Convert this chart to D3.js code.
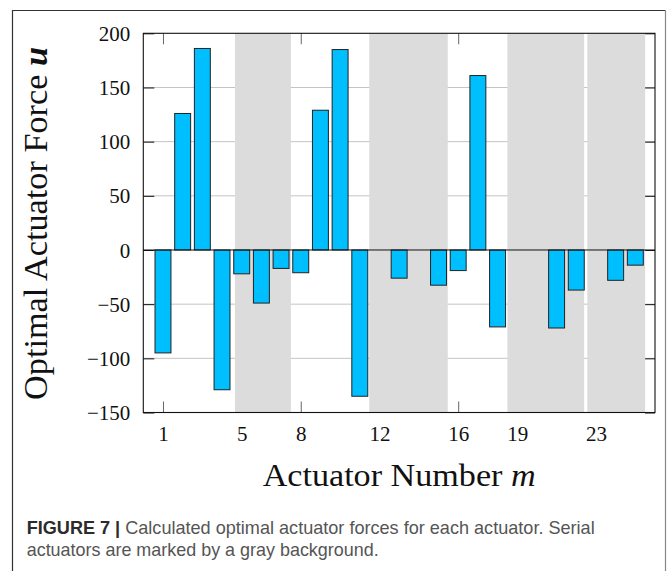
<!DOCTYPE html>
<html>
<head>
<meta charset="utf-8">
<script src="https://cdn.jsdelivr.net/npm/d3@7"></script>
<style>
  html, body { margin: 0; padding: 0; background: #fff; }
  svg { display: block; }
</style>
</head>
<body>
<svg id="fig" width="667" height="571"></svg>
<script>
// Actuator indices and optimal forces u (N)
const actuators = d3.range(1, 26);
const forces = [-95, 126, 186, -129, -22, -49, -17, -21, 129, 185,
                -135, 0, -26, 0, -32.5, -19, 161, -71, 0, 0,
                -72, -37, 0, -28, -14];
// Serial actuator groups, shaded (start/end in actuator units)
const bandStart = [4.66, 11.48, 18.5, 22.56];
const bandEnd   = [7.5, 15.47, 22.4, 25.5];
const xTicks = [1, 5, 8, 12, 16, 19, 23];
const yTicks = [-150, -100, -50, 0, 50, 100, 150, 200];

const svg = d3.select("#fig");
const serif = "'Liberation Serif', 'Times New Roman', serif";
const sans = "'Liberation Sans', Arial, sans-serif";

// outer figure frame
svg.append("path")
  .attr("d", "M12.5,575 V10.5 H665.5")
  .attr("fill", "none").attr("stroke", "#333").attr("stroke-width", 1.2);
svg.append("line")
  .attr("x1", 665.5).attr("x2", 665.5).attr("y1", 10.5).attr("y2", 575)
  .attr("stroke", "#888").attr("stroke-width", 1.2);

const L = 143.3, R = 655, T = 33.3, B = 412.5;
const x = d3.scaleLinear().domain([0, 26]).range([L, R]);
const y = d3.scaleLinear().domain([-150, 200]).range([B, T]);

const g = svg.append("g");

// horizontal grid
g.append("g").selectAll("line")
  .data(yTicks.filter(v => v !== 0 && v !== -150 && v !== 200))
  .join("line")
  .attr("x1", L).attr("x2", R)
  .attr("y1", d => y(d)).attr("y2", d => y(d))
  .attr("stroke", "#c4c4c4").attr("stroke-width", 1);

// axes (inward ticks)
const fmt = d3.format("d");
const axL = g.append("g").attr("transform", `translate(${L},0)`)
  .call(d3.axisLeft(y).tickValues(yTicks).tickFormat(fmt).tickSizeInner(-11).tickSizeOuter(0).tickPadding(13));
const axR = g.append("g").attr("transform", `translate(${R},0)`)
  .call(d3.axisRight(y).tickValues(yTicks).tickFormat("").tickSizeInner(-10).tickSizeOuter(0));
const axB = g.append("g").attr("transform", `translate(0,${B})`)
  .call(d3.axisBottom(x).tickValues(xTicks).tickFormat(fmt).tickSizeInner(-11).tickSizeOuter(0).tickPadding(14));
const axT = g.append("g").attr("transform", `translate(0,${T})`)
  .call(d3.axisTop(x).tickValues(xTicks).tickFormat("").tickSizeInner(-11).tickSizeOuter(0));

[axL, axR, axB, axT].forEach(a => a.select(".domain").remove());
[axL, axR].forEach(a => a.selectAll(".tick line").attr("stroke", "#111").attr("stroke-width", 1));
[axB, axT].forEach(a => a.selectAll(".tick line").attr("stroke", "#666").attr("stroke-width", 1));
[axL, axB].forEach(a => a.selectAll(".tick text")
  .attr("font-family", serif).attr("font-size", 21).attr("fill", "#111"));
axL.selectAll(".tick text").attr("dy", "0.34em");
axB.selectAll(".tick text").attr("dy", "0.71em");

// shaded serial-actuator bands
g.append("g").selectAll("rect")
  .data(d3.zip(bandStart, bandEnd))
  .join("rect")
  .attr("x", d => x(d[0])).attr("width", d => x(d[1]) - x(d[0]))
  .attr("y", T).attr("height", B - T)
  .attr("fill", "#dcdcdc");

// bars
const bw = x(0.81) - x(0);
g.append("g").selectAll("rect")
  .data(d3.zip(actuators, forces))
  .join("rect")
  .attr("x", d => x(d[0]) - bw / 2)
  .attr("width", bw)
  .attr("y", d => y(Math.max(0, d[1])))
  .attr("height", d => Math.abs(y(d[1]) - y(0)))
  .attr("fill", "#00bfff")
  .attr("stroke", "#222").attr("stroke-width", 1);

// zero line
g.append("line")
  .attr("x1", L).attr("x2", R).attr("y1", y(0)).attr("y2", y(0))
  .attr("stroke", "#111").attr("stroke-width", 1);

// plot frame
g.append("rect")
  .attr("x", L).attr("y", T).attr("width", R - L).attr("height", B - T)
  .attr("fill", "none").attr("stroke", "#111").attr("stroke-width", 1.1);

// axis titles
const xt = svg.append("text")
  .attr("x", (L + R) / 2).attr("y", 486)
  .attr("text-anchor", "middle")
  .attr("font-family", serif).attr("font-size", 31).attr("fill", "#111")
  .attr("textLength", 273).attr("lengthAdjust", "spacingAndGlyphs");
xt.append("tspan").text("Actuator Number ");
xt.append("tspan").attr("font-style", "italic").text("m");

const yt = svg.append("text")
  .attr("transform", "translate(46.5,223.5) rotate(-90)")
  .attr("text-anchor", "middle")
  .attr("font-family", serif).attr("font-size", 33).attr("fill", "#111")
  .attr("textLength", 353).attr("lengthAdjust", "spacingAndGlyphs");
yt.append("tspan").text("Optimal Actuator Force ");
yt.append("tspan").attr("font-style", "italic").attr("font-weight", "bold").text("u");

// caption
const c1 = svg.append("text")
  .attr("x", 26.7).attr("y", 533.5)
  .attr("font-family", sans).attr("font-size", 19).attr("fill", "#555")
  .attr("textLength", 568).attr("lengthAdjust", "spacingAndGlyphs");
c1.append("tspan").attr("font-weight", "bold").attr("fill", "#2b2b2b").text("FIGURE 7 | ");
c1.append("tspan").text("Calculated optimal actuator forces for each actuator. Serial");
svg.append("text")
  .attr("x", 26.7).attr("y", 556)
  .attr("font-family", sans).attr("font-size", 19).attr("fill", "#555")
  .attr("textLength", 352).attr("lengthAdjust", "spacingAndGlyphs")
  .text("actuators are marked by a gray background.");
</script>
</body>
</html>
